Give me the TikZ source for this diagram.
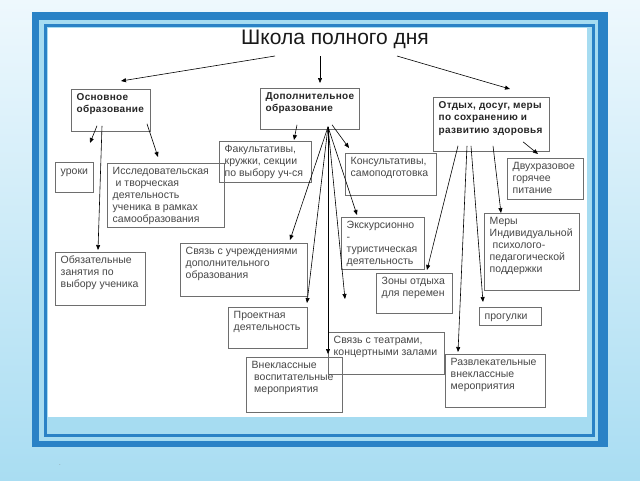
\documentclass[tikz,border=0pt]{standalone}
\usepackage{fontspec}
\setmainfont{Liberation Sans}
\newfontfamily\hdfont{Liberation Sans}[LetterSpace=3]
\usetikzlibrary{arrows.meta,calc}
\definecolor{frameblue}{HTML}{2A82C6}
\definecolor{stripblue}{HTML}{A6DCF1}
\definecolor{bgtop}{HTML}{EEF8FD}
\definecolor{bgbot}{HTML}{A9DDF2}
\definecolor{boxline}{HTML}{6E6E6E}
\definecolor{txtgray}{HTML}{474747}
\definecolor{hdgray}{HTML}{262626}
\tikzset{
  frame/.style={draw=boxline, line width=0.8pt, anchor=north west, inner sep=0pt},
  txt/.style={anchor=north west, inner sep=0pt, align=left, text=txtgray,
    font=\fontsize{10.5}{12}\selectfont, execute at begin node=\strut},
  hd/.style={anchor=north west, inner sep=0pt, align=left, text=hdgray,
    font=\hdfont\bfseries\fontsize{10}{12.5}\selectfont, execute at begin node=\strut},
  arr/.style={draw=black, line width=0.6pt, -{Triangle[length=5pt,width=4pt]}},
  ln/.style={draw=black, line width=0.6pt},
}
\newcommand\mybox[7]{%
  \node[frame, minimum width=#4pt, minimum height=#5pt] (#1) at (#2,#3) {};
  \node[#6] (#1t) at ($(#1.north west)+(5.5,4)$) {#7};
}
\begin{document}
\begin{tikzpicture}[x=1pt,y=-1pt]
\useasboundingbox (0,0) rectangle (640,480);
% background and frame
\shade[top color=bgtop, bottom color=bgbot] (0,0) rectangle (640,480);
\fill[frameblue] (32,12) rectangle (608,447);
\fill[stripblue] (39,20) rectangle (598,441);
\draw[frameblue, line width=3pt] (45,25.7) rectangle (593,435);
\fill[white] (48,28) rectangle (587,417);
\node[font=\fontsize{6}{6}\selectfont, text=gray, inner sep=0pt] (dot) at (60,465) {.};

% title
\node[font=\fontsize{21}{24}\selectfont, anchor=base, inner sep=0pt, text=black!90] (title) at (335,44) {Школа полного дня};

% main boxes
\mybox{osn}{71}{89}{79}{42}{hd}{Основное\\образование}
\mybox{dop}{260}{88}{99}{41}{hd}{Дополнительное\\образование}
\mybox{otd}{433}{97}{116}{54}{hd}{Отдых, досуг, меры\\по сохранению и\\развитию здоровья}

% left column
\mybox{urk}{55}{162}{38}{30}{txt}{уроки}
\mybox{iss}{107}{163}{117}{64}{txt}{Исследовательская\\\hspace{3pt}и творческая\\деятельность\\ученика в рамках\\самообразования}
\mybox{obz}{55}{252}{90}{53}{txt}{Обязательные\\занятия по\\выбору ученика}

% middle column
\mybox{fak}{219}{141}{92}{41}{txt}{Факультативы,\\кружки, секции\\по выбору уч-ся}
\mybox{kon}{345}{153}{91}{42}{txt}{Консультативы,\\самоподготовка}
\mybox{eks}{341}{217}{83}{52}{txt}{Экскурсионно\\-\\туристическая\\деятельность}
\mybox{svu}{180}{243}{127}{53}{txt}{Связь с учреждениями\\дополнительного\\образования}
\mybox{zon}{376}{273}{76}{40}{txt}{Зоны отдыха\\для перемен}
\mybox{pro}{228}{307}{79}{41}{txt}{Проектная\\деятельность}
\mybox{svt}{328}{332}{116}{42}{txt}{Связь с театрами,\\концертными залами}
\mybox{vne}{246}{357}{96}{55}{txt}{Внеклассные\\\hspace{2.5pt}воспитательные\\\hspace{2.5pt}мероприятия}

% right column
\mybox{dvu}{507}{158}{76}{41}{txt}{Двухразовое\\горячее\\питание}
\mybox{mer}{484}{213}{95}{77}{txt}{Меры\\Индивидуальной\\\hspace{3pt}психолого-\\педагогической\\поддержки}
\mybox{prg}{479}{307}{62}{18}{txt}{прогулки}
\mybox{raz}{445}{354}{100}{53}{txt}{Развлекательные\\внеклассные\\мероприятия}

% title arrows
\draw[arr] ($(title.base)+(-60,12)$) -- ($(osn.north west)+(50,-8)$);
\draw[arr] ($(title.base)+(-15,12)$) -- ($(dop.north west)+(60,-5)$);
\draw[arr] ($(title.base)+(62,12)$) -- ($(otd.north west)+(77,-8)$);

% left arrows
\draw[arr] ($(osn.south west)+(26,-6)$) -- ($(urk.north west)+(35,-19)$);
\draw[arr] ($(osn.south west)+(31,-6)$) -- ($(obz.north west)+(43,-2)$);
\draw[arr] ($(osn.south west)+(76,-8)$) -- ($(iss.north west)+(51,-6)$);

% middle arrows
\coordinate (fan) at ($(dop.south west)+(68,-3)$);
\coordinate (freeend) at ($(svt.north west)+(17,-33)$);
\draw[arr] ($(dop.south west)+(37,-5)$) -- ($(fak.north west)+(75,-1)$);
\draw[arr] ($(dop.south west)+(72,-5)$) -- ($(kon.north west)+(4,-5)$);
\draw[arr] (fan) -- ($(eks.north west)+(16,-2)$);
\draw[arr] (fan) -- ($(svu.north west)+(110,-3)$);
\draw[arr] (fan) -- ($(pro.north west)+(79,-4)$);
\draw[arr] (fan) -- ($(vne.north west)+(82,-3)$);
\draw[arr] (fan) -- (freeend);

% right arrows
\draw[arr] ($(otd.south west)+(90,-10)$) -- ($(dvu.north west)+(31,-4)$);
\draw[arr] ($(otd.south west)+(25,-6)$) -- ($(zon.north west)+(51,-3)$);
\draw[arr] ($(otd.south west)+(34,-6)$) -- ($(raz.north west)+(13,-2)$);
\draw[arr] ($(otd.south west)+(38,-6)$) -- ($(prg.north west)+(4,-5)$);
\draw[arr] ($(otd.south west)+(60,-6)$) -- ($(mer.north west)+(17,0)$);
\end{tikzpicture}
\end{document}
